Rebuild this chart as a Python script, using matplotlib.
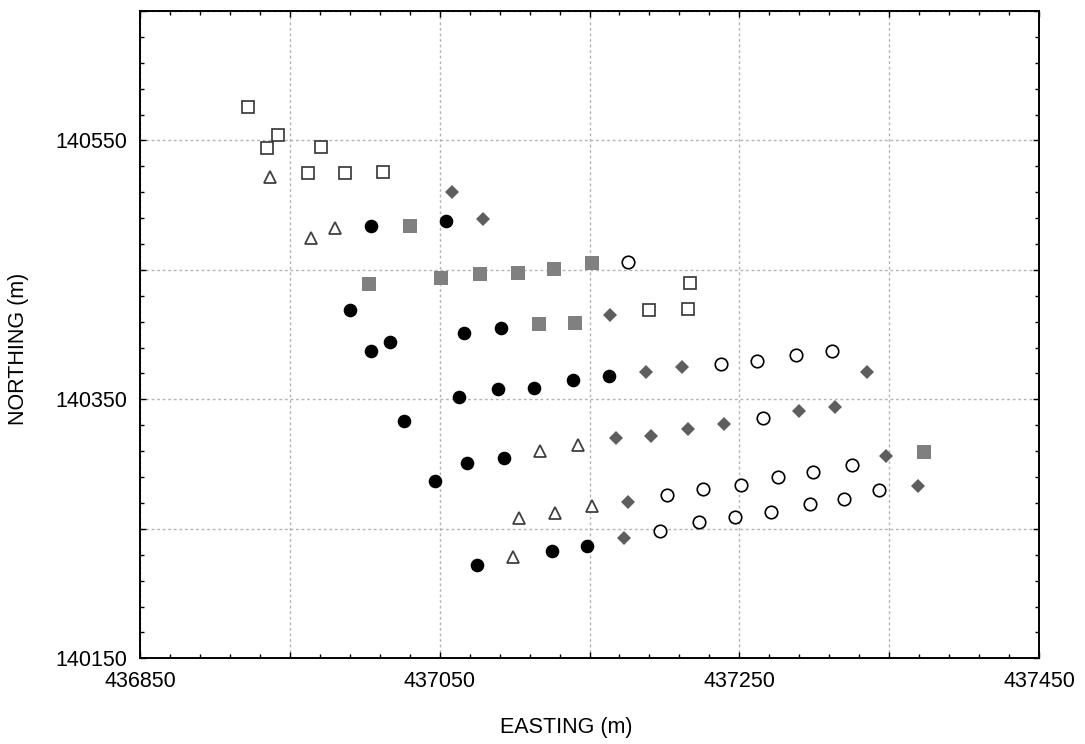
import matplotlib
matplotlib.use('Agg')
import matplotlib.pyplot as plt
from matplotlib.ticker import MultipleLocator, FuncFormatter

# sample locations, grouped by symbol
open_sq_x = [436922, 436942, 436935, 436971, 436962, 436987, 437012, 437217, 437190, 437216]
open_sq_y = [140576, 140554, 140544, 140545, 140525, 140525, 140526, 140440, 140419, 140420]

tri_x = [436937, 436964, 436980, 437117, 437142, 437103, 437127, 437152, 437099]
tri_y = [140522, 140475, 140482, 140310, 140315, 140258, 140262, 140268, 140228]

dot_x = [437004, 437054, 436990, 437004, 437017, 437066, 437091, 437063, 437089, 437113,
         437139, 437163, 437026, 437068, 437093, 437047, 437075, 437125, 437148]
dot_y = [140484, 140488, 140419, 140387, 140394, 140401, 140405, 140352, 140358, 140359,
         140365, 140368, 140333, 140301, 140305, 140287, 140222, 140233, 140237]

gsq_x = [437030, 437003, 437051, 437077, 437102, 437126, 437152, 437116, 437140, 437373]
gsq_y = [140484, 140439, 140444, 140447, 140448, 140451, 140455, 140408, 140409, 140309]

dia_x = [437058, 437079, 437164, 437188, 437212, 437335, 437168, 437191, 437216, 437240,
         437290, 437314, 437348, 437369, 437176, 437173]
dia_y = [140510, 140489, 140415, 140371, 140375, 140371, 140320, 140322, 140327, 140331,
         140341, 140344, 140306, 140283, 140271, 140243]

ocirc_x = [437176, 437238, 437262, 437288, 437312, 437266, 437202, 437226, 437251, 437276,
           437299, 437325, 437197, 437223, 437247, 437271, 437297, 437320, 437343]
ocirc_y = [140456, 140377, 140380, 140384, 140387, 140336, 140276, 140281, 140284, 140290,
           140294, 140299, 140248, 140255, 140259, 140263, 140269, 140273, 140280]

plt.rcParams['font.family'] = ['Liberation Sans', 'DejaVu Sans']

fig = plt.figure(figsize=(10.85, 7.44), dpi=100)
ax = fig.add_axes([140 / 1085, 1 - 658.3 / 744, 899 / 1085, 647.3 / 744])

ax.plot(open_sq_x, open_sq_y, 's', ms=9, mfc='white', mec='#333333', mew=1.2, ls='none')
ax.plot(tri_x, tri_y, '^', ms=8, mfc='white', mec='#404040', mew=1.3, ls='none')
ax.plot(dot_x, dot_y, 'o', ms=9.8, mfc='black', mec='black', mew=0, ls='none')
ax.plot(gsq_x, gsq_y, 's', ms=10, mfc='#808080', mec='#808080', mew=0, ls='none')
ax.plot(dia_x, dia_y, 'D', ms=7.2, mfc='#5e5e5e', mec='#5e5e5e', mew=0, ls='none')
ax.plot(ocirc_x, ocirc_y, 'o', ms=9, mfc='white', mec='black', mew=1.2, ls='none')

ax.set_xlim(436850, 437450)
ax.set_ylim(140150, 140650)

# grid every 100 m from the axis origin, minor ticks every 20 m
ax.xaxis.set_major_locator(MultipleLocator(100, offset=50))
ax.xaxis.set_minor_locator(MultipleLocator(20, offset=10))
ax.yaxis.set_major_locator(MultipleLocator(100, offset=50))
ax.yaxis.set_minor_locator(MultipleLocator(20, offset=10))


def every_other(base):
    # label only every 200 m, starting at base
    def fmt(v, pos):
        if round(v - base) % 200 == 0:
            return '%d' % round(v)
        return ''
    return FuncFormatter(fmt)


ax.xaxis.set_major_formatter(every_other(436850))
ax.yaxis.set_major_formatter(every_other(140150))

ax.tick_params(which='both', direction='in', top=True, right=True, labelsize=15.5, width=1)
ax.tick_params(which='major', length=4)
ax.tick_params(which='minor', length=3)
ax.tick_params(axis='x', pad=9)
ax.tick_params(axis='y', pad=9)

ax.grid(True, which='major', color='#b4b4b4', ls=(0, (2, 2)), lw=1)
for s in ax.spines.values():
    s.set_linewidth(1.4)

fig.text(566 / 1085, 1 - 727 / 744, 'EASTING (m)', ha='center', va='center', fontsize=15.5)
fig.text(19 / 1085, 1 - 349 / 744, 'NORTHING (m)', ha='center', va='center',
         rotation=90, fontsize=15.5)

fig.savefig('out.png', dpi=100)
